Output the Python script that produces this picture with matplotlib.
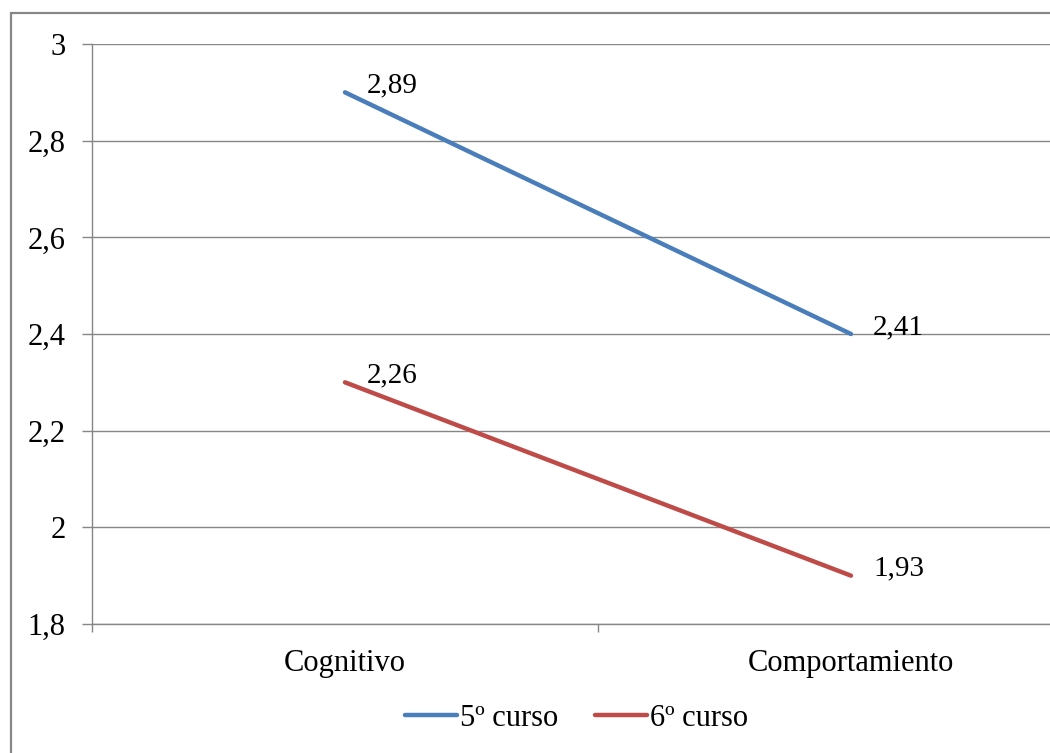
import matplotlib

matplotlib.use("Agg")
import matplotlib.pyplot as plt
from matplotlib.patches import Rectangle
from matplotlib.ticker import FuncFormatter, MultipleLocator

# data
categories = ["Cognitivo", "Comportamiento"]
series_names = ["5º curso", "6º curso"]
curso5 = [2.90, 2.40]
curso6 = [2.30, 1.90]
curso5_labels = ["2,89", "2,41"]
curso6_labels = ["2,26", "1,93"]

colors = ["#4A7EBB", "#BE4B48"]
grid_col = "#868686"

plt.rcParams["font.family"] = ["Liberation Serif", "DejaVu Serif"]
plt.rcParams["font.size"] = 22

fig = plt.figure(figsize=(10.5, 7.53), dpi=100)
# plot area runs past the right edge in the original (cropped screenshot)
ax = fig.add_axes([92 / 1050, 1 - 624 / 753, 1012 / 1050, 580 / 753])

x = list(range(len(categories)))
for vals, labs, col, name in zip([curso5, curso6], [curso5_labels, curso6_labels], colors, series_names):
    ax.plot(x, vals, color=col, lw=3.2, solid_capstyle="round", label=name)
    for xi, v, t in zip(x, vals, labs):
        ax.annotate(t, (xi, v), xytext=(16, 5), textcoords="offset points",
                    ha="left", va="center", fontsize=21)

ax.set_xlim(-0.5, 1.5)
ax.set_ylim(1.8, 3.0)
ax.yaxis.set_major_locator(MultipleLocator(0.2))
ax.yaxis.set_major_formatter(FuncFormatter(lambda v, p: f"{v:g}".replace(".", ",")))
ax.grid(axis="y", color=grid_col, lw=1)
ax.set_axisbelow(True)

ax.set_xticks([-0.5, 0.5, 1.5])
ax.set_xticklabels([])
ax.set_xticks(x, minor=True)
ax.set_xticklabels(categories, minor=True)
ax.tick_params(axis="x", which="major", length=6, width=1, color=grid_col, direction="out")
ax.tick_params(axis="x", which="minor", length=0, pad=18)
ax.tick_params(axis="y", length=7, width=1, color=grid_col, pad=12)

for side in ["top", "right"]:
    ax.spines[side].set_visible(False)
for side in ["left", "bottom"]:
    ax.spines[side].set_color(grid_col)
    ax.spines[side].set_linewidth(1)

fig.legend(loc="center", bbox_to_anchor=(577 / 1050, 1 - 718 / 753), ncol=2,
           frameon=False, handlelength=1.7, handletextpad=0.1, columnspacing=1.2,
           fontsize=22)

# outer chart border (only top and left edges visible in the crop)
fig.patches.append(Rectangle((11 / 1050, -0.1), 2.0, 1.1 - 13 / 753, transform=fig.transFigure,
                             fill=False, edgecolor="#878787", lw=1.6))

fig.savefig("out.png", dpi=100)
